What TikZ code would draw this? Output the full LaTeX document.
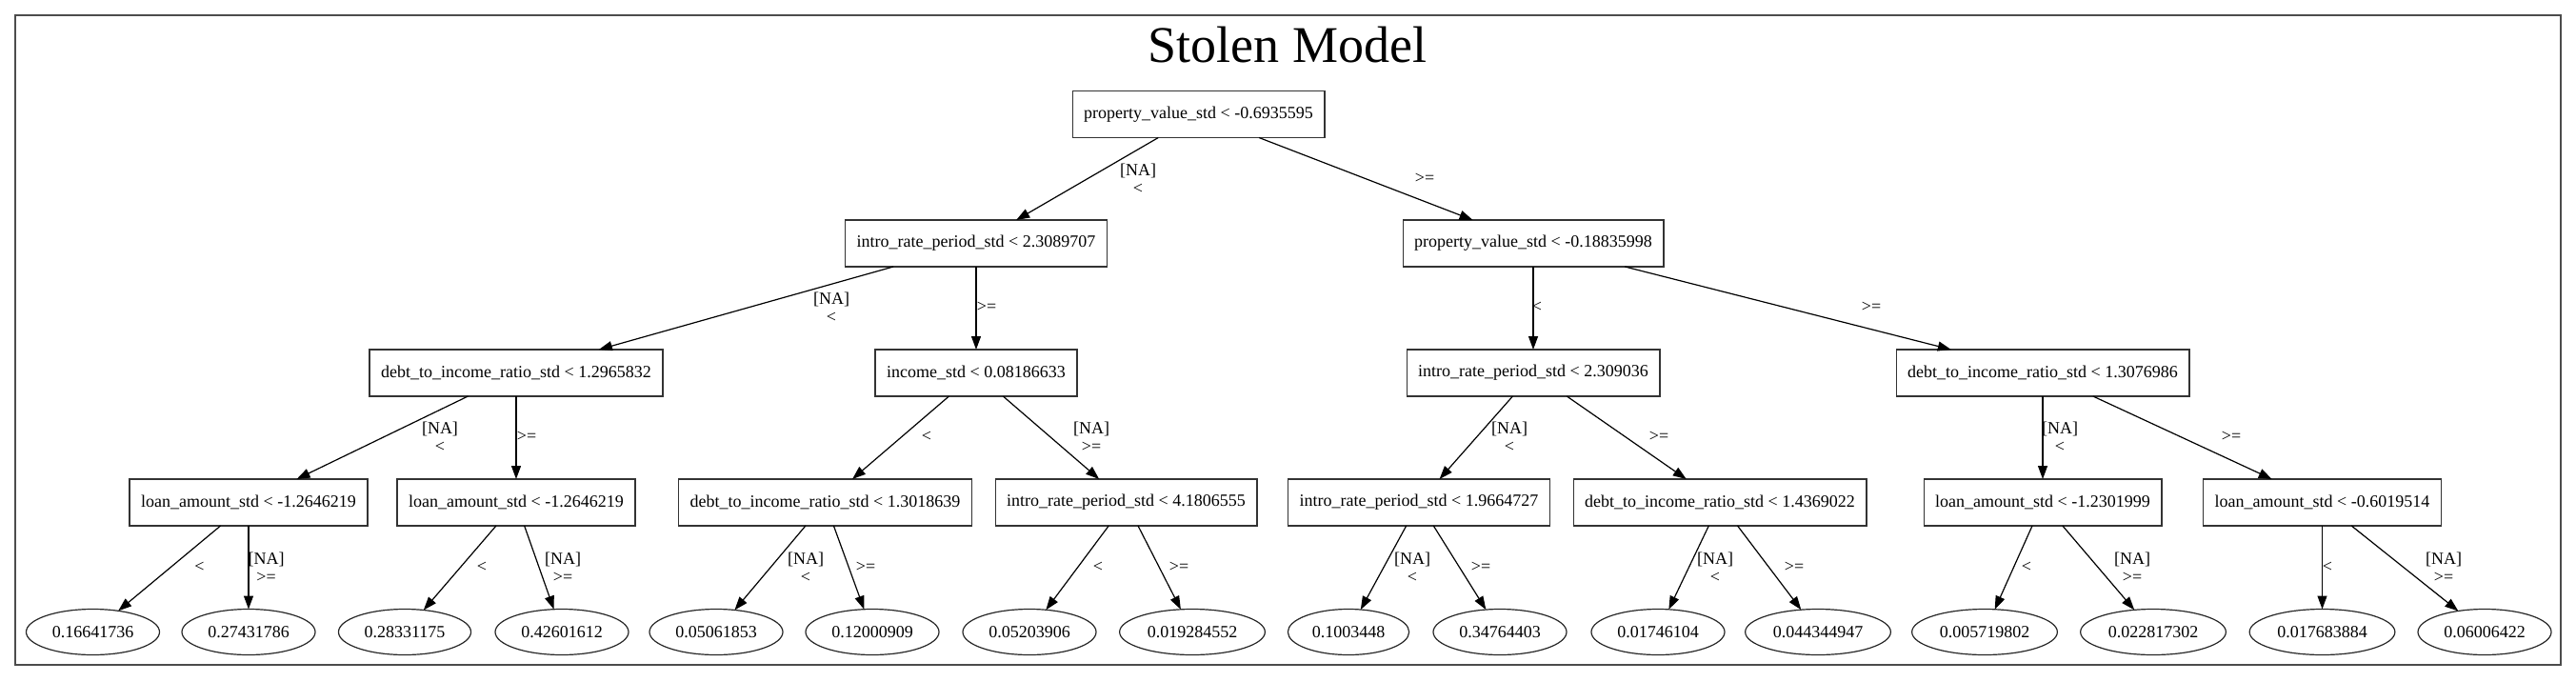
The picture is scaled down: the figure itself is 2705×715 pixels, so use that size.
\documentclass[tikz,border=0pt]{standalone}
\usepackage{fontspec}
\setmainfont{Liberation Serif}
\usetikzlibrary{arrows.meta,shapes.geometric}

\begin{document}
\begin{tikzpicture}[x=1pt, y=-1pt,
    split/.style={rectangle, draw=black!80, line width=1.4pt, minimum height=49pt, inner xsep=12pt, outer sep=0pt, font=\fontsize{18}{19}\selectfont},
    leaf/.style={ellipse, draw=black!85, line width=1.2pt, minimum height=48pt, inner xsep=6.75pt, inner ysep=0pt, outer sep=0pt, font=\fontsize{18}{19}\selectfont},
    cond/.style={align=center, inner sep=0pt, font=\fontsize{18}{19}\selectfont},
    branch/.style={line width=1.2pt, -{Triangle[length=14pt,width=10pt]}}]
  \useasboundingbox (0, 0) rectangle (2705, 715);
  %Frame and title
  \draw [black!70, line width=2pt] (15.7, 15.7) rectangle (2689, 698);
  \node (title) [anchor=base, inner sep=0pt, font=\fontsize{54}{60}\selectfont] at (1352, 65) {Stolen Model};
  %Root
  \node (root) [split] at (1258.5, 120) {property\_value\_std < -0.6935595};
  %Level 1
  \node (a) [split] at (1025, 255.5) {intro\_rate\_period\_std < 2.3089707};
  \node (b) [split] at (1610, 255.5) {property\_value\_std < -0.18835998};
  %Level 2
  \node (aa) [split] at (542, 391.5) {debt\_to\_income\_ratio\_std < 1.2965832};
  \node (ab) [split] at (1025, 391.5) {income\_std < 0.08186633};
  \node (ba) [split] at (1610, 391.5) {intro\_rate\_period\_std < 2.309036};
  \node (bb) [split] at (2145, 391.5) {debt\_to\_income\_ratio\_std < 1.3076986};
  %Level 3
  \node (aaa) [split] at (261, 527.5) {loan\_amount\_std < -1.2646219};
  \node (aab) [split] at (542, 527.5) {loan\_amount\_std < -1.2646219};
  \node (aba) [split] at (866.5, 527.5) {debt\_to\_income\_ratio\_std < 1.3018639};
  \node (abb) [split] at (1182.5, 527.5) {intro\_rate\_period\_std < 4.1806555};
  \node (baa) [split] at (1490, 527.5) {intro\_rate\_period\_std < 1.9664727};
  \node (bab) [split] at (1806, 527.5) {debt\_to\_income\_ratio\_std < 1.4369022};
  \node (bba) [split] at (2145, 527.5) {loan\_amount\_std < -1.2301999};
  \node (bbb) [split] at (2438.5, 527.5) {loan\_amount\_std < -0.6019514};
  %Leaves
  \node (l1) [leaf] at (97.5, 663.5) {0.16641736};
  \node (l2) [leaf] at (261, 663.5) {0.27431786};
  \node (l3) [leaf] at (425, 663.5) {0.28331175};
  \node (l4) [leaf] at (590, 663.5) {0.42601612};
  \node (l5) [leaf] at (752, 663.5) {0.05061853};
  \node (l6) [leaf] at (916, 663.5) {0.12000909};
  \node (l7) [leaf] at (1081, 663.5) {0.05203906};
  \node (l8) [leaf] at (1252, 663.5) {0.019284552};
  \node (l9) [leaf] at (1416, 663.5) {0.1003448};
  \node (l10) [leaf] at (1575, 663.5) {0.34764403};
  \node (l11) [leaf] at (1741, 663.5) {0.01746104};
  \node (l12) [leaf] at (1909, 663.5) {0.044344947};
  \node (l13) [leaf] at (2084, 663.5) {0.005719802};
  \node (l14) [leaf] at (2261, 663.5) {0.022817302};
  \node (l15) [leaf] at (2438.5, 663.5) {0.017683884};
  \node (l16) [leaf] at (2609, 663.5) {0.06006422};
  %Branches
  \draw [branch] (root) -- (a);
  \draw [branch] (root) -- (b);
  \draw [branch] (a) -- (aa);
  \draw [branch] (a) -- (ab);
  \draw [branch] (b) -- (ba);
  \draw [branch] (b) -- (bb);
  \draw [branch] (aa) -- (aaa);
  \draw [branch] (aa) -- (aab);
  \draw [branch] (ab) -- (aba);
  \draw [branch] (ab) -- (abb);
  \draw [branch] (ba) -- (baa);
  \draw [branch] (ba) -- (bab);
  \draw [branch] (bb) -- (bba);
  \draw [branch] (bb) -- (bbb);
  \draw [branch] (aaa) -- (l1);
  \draw [branch] (aaa) -- (l2);
  \draw [branch] (aab) -- (l3);
  \draw [branch] (aab) -- (l4);
  \draw [branch] (aba) -- (l5);
  \draw [branch] (aba) -- (l6);
  \draw [branch] (abb) -- (l7);
  \draw [branch] (abb) -- (l8);
  \draw [branch] (baa) -- (l9);
  \draw [branch] (baa) -- (l10);
  \draw [branch] (bab) -- (l11);
  \draw [branch] (bab) -- (l12);
  \draw [branch] (bba) -- (l13);
  \draw [branch] (bba) -- (l14);
  \draw [branch] (bbb) -- (l15);
  \draw [branch] (bbb) -- (l16);
  %Branch labels
  \node (c1) [cond] at (1195, 187.5) {[NA]\\<};
  \node (c2) [cond] at (1496, 187) {>=};
  \node (c3) [cond] at (873, 322.5) {[NA]\\<};
  \node (c4) [cond] at (1036, 322) {>=};
  \node (c5) [cond] at (1614, 322) {<};
  \node (c6) [cond] at (1965, 322) {>=};
  \node (c7) [cond] at (462, 459) {[NA]\\<};
  \node (c8) [cond] at (553, 458) {>=};
  \node (c9) [cond] at (973, 458) {<};
  \node (c10) [cond] at (1146, 459) {[NA]\\>=};
  \node (c11) [cond] at (1585, 459) {[NA]\\<};
  \node (c12) [cond] at (1742, 458) {>=};
  \node (c13) [cond] at (2163, 459) {[NA]\\<};
  \node (c14) [cond] at (2343, 458) {>=};
  \node (c15) [cond] at (209.5, 595) {<};
  \node (c16) [cond] at (279.6, 595.5) {[NA]\\>=};
  \node (c17) [cond] at (506, 595) {<};
  \node (c18) [cond] at (591, 595.5) {[NA]\\>=};
  \node (c19) [cond] at (846, 595.5) {[NA]\\<};
  \node (c20) [cond] at (909, 595) {>=};
  \node (c21) [cond] at (1153, 595) {<};
  \node (c22) [cond] at (1238, 595) {>=};
  \node (c23) [cond] at (1483, 595.5) {[NA]\\<};
  \node (c24) [cond] at (1555, 595) {>=};
  \node (c25) [cond] at (1801, 595.5) {[NA]\\<};
  \node (c26) [cond] at (1884, 595) {>=};
  \node (c27) [cond] at (2128, 595) {<};
  \node (c28) [cond] at (2239, 595.5) {[NA]\\>=};
  \node (c29) [cond] at (2444, 595) {<};
  \node (c30) [cond] at (2566, 595.5) {[NA]\\>=};
\end{tikzpicture}
\end{document}
